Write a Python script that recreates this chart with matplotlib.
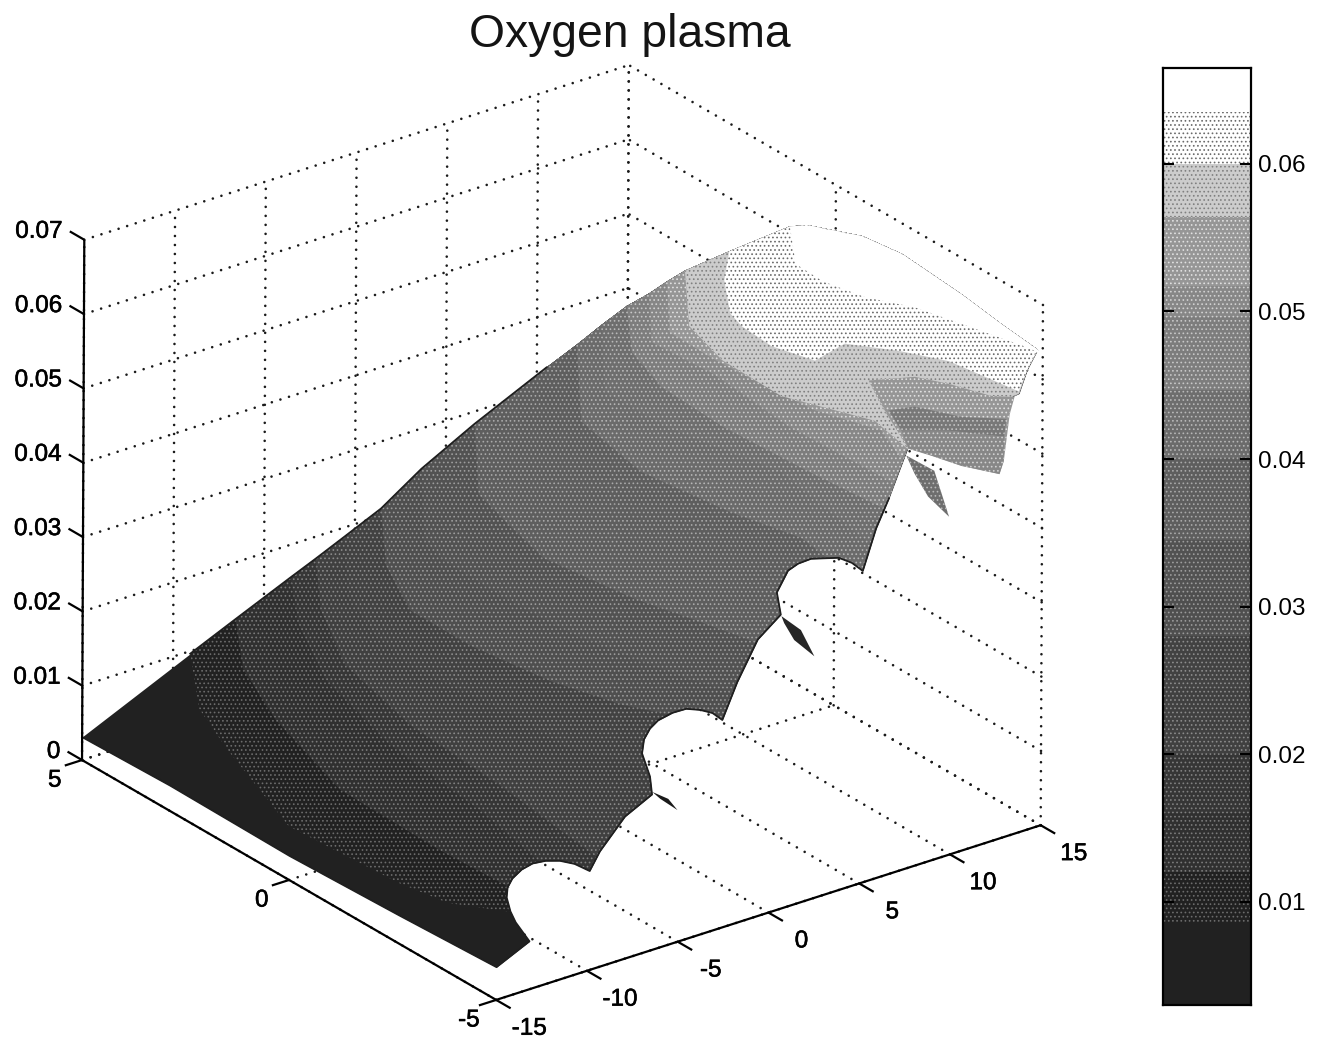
import numpy as np
import matplotlib
matplotlib.use("Agg")
import matplotlib.pyplot as plt
import matplotlib.patheffects as pe
from mpl_toolkits.mplot3d import proj3d
from mpl_toolkits.mplot3d.art3d import Poly3DCollection

plt.rcParams['font.family'] = ['Liberation Sans', 'DejaVu Sans']
plt.rcParams['hatch.linewidth'] = 0.7

# axis ticks
x_ticks = [-15, -10, -5, 0, 5, 10, 15]
y_ticks = [-5, 0, 5]
z_ticks = [0, 0.01, 0.02, 0.03, 0.04, 0.05, 0.06, 0.07]
z_labels = ['0', '0.01', '0.02', '0.03', '0.04', '0.05', '0.06', '0.07']
cb_ticks = [0.01, 0.02, 0.03, 0.04, 0.05, 0.06]

# height of each contour, and the gray of the band above it
levels = [0.0085, 0.012, 0.016, 0.020, 0.0245, 0.028, 0.031, 0.0345, 0.0377, 0.0401,
          0.0422, 0.0447, 0.0496, 0.0517, 0.0564, 0.06, 0.0635]
base_gray = 0.13
band_gray = [0.20, 0.26, 0.28, 0.32, 0.33, 0.38, 0.39, 0.44, 0.44, 0.49,
             0.50, 0.56, 0.60, 0.66, 0.76, 0.87, 1.0]
z_min = 0.003
z_max = 0.0665

# contours, from the top edge of the sheet to the cut edge
contour_x = [
    [-8.53, -11.59, -13.06, -15.60, -15.17, -14.66, -12.97],
    [-6.41, -9.20, -11.13, -13.14, -13.31, -13.11],
    [-3.72, -6.32, -8.75, -10.46, -11.27, -12.29],
    [-3.51, -6.47, -8.96, -10.35, -10.86, -11.81],
    [-3.24, -6.78, -8.07, -8.86, -8.45, -8.16, -8.24, -6.60],
    [-1.77, -5.08, -6.97, -7.00, -6.33, -5.28, -4.25],
    [0.72, -3.59, -4.11, -4.22, -4.19, -4.02, -3.37, -2.70, -1.92],
    [3.75, -0.40, -1.19, -2.01, -1.29, -0.36, 0.36],
    [8.31, 3.04, 2.20, 2.49, 3.81, 3.53],
    [9.67, 5.13, 4.17, 4.88, 5.81, 5.52],
    [10.81, 6.81, 6.85, 8.13, 6.94],
    [11.71, 9.07, 7.98, 7.74, 8.04, 8.43],
    [11.04, 8.14, 8.39, 7.85, 8.11],
    [11.45, 8.43, 8.36, 8.50, 8.81, 9.94, 8.92],
    [10.61, 7.37, 6.45, 6.35, 8.15, 7.59],
    [11.72, 9.78, 7.96, 7.58, 7.42, 8.07, 10.17, 11.64, 12.79, 13.41],
    [13.78, 11.72, 11.62, 12.15, 13.30, 14.08, 14.85, 14.87],
]
contour_y = [
    [5.23, 3.67, 2.36, -0.25, -2.72, -3.67, -4.47],
    [5.07, 3.66, 2.04, -0.40, -2.88, -4.49],
    [4.92, 3.59, 1.88, -0.44, -2.96, -4.86],
    [4.41, 2.99, 1.31, -0.87, -3.27, -6.01],
    [3.85, 2.21, 1.01, -0.22, -1.42, -2.49, -3.73, -4.90],
    [3.60, 2.03, 0.61, -0.85, -2.49, -3.72, -4.36],
    [3.72, 1.77, 1.06, -0.05, -1.14, -2.03, -3.20, -4.21, -4.95],
    [3.77, 1.85, 0.79, -0.43, -2.29, -3.49, -4.51],
    [4.03, 1.67, 0.20, -0.87, -2.47, -3.70],
    [3.90, 1.80, -0.07, -1.93, -3.21, -3.94],
    [3.80, 1.98, 0.49, -1.71, -4.36],
    [3.59, 2.31, 1.11, -0.51, -2.48, -4.04],
    [2.76, 1.43, 0.02, -2.08, -4.44],
    [2.51, 1.12, 0.00, -1.00, -2.22, -3.33, -4.26],
    [1.71, 0.19, -1.01, -2.49, -3.95, -4.99],
    [1.13, 0.40, -0.54, -0.99, -1.78, -2.54, -2.34, -3.00, -3.71, -5.12],
    [0.58, -0.46, -1.16, -1.95, -2.66, -3.70, -4.72, -4.94],
]

# cut edge of the sheet with the scallops
edge_x = [-14.96, -14.81, -14.88, -14.86, -14.99, -12.97, -13.21, -13.41, -13.60, -13.41, -13.15, -12.73, -12.43,
          -12.26, -12.21, -12.24, -12.46, -11.58, -9.24, -7.39, -6.59, -6.37, -5.76, -5.25, -4.83, -4.17, -3.67,
          -3.47, -3.36, -3.53, -1.59, 0.38, 2.03, 2.93, 4.07, 4.62, 5.15, 5.51, 5.53, 5.33, 7.50, 8.20, 7.23,
          13.38, 14.16, 15.0]
edge_y = [5.02, 2.96, 0.04, -2.60, -5.0, -4.91, -4.68, -4.64, -4.63, -4.57, -4.57, -4.61, -4.74,
          -4.98, -5.30, -5.67, -6.13, -5.99, -5.57, -5.41, -5.01, -4.72, -4.50, -4.42, -4.43, -4.49, -4.60,
          -4.85, -5.10, -5.41, -4.92, -4.55, -4.38, -3.89, -3.66, -3.66, -3.74, -4.25, -4.56, -4.91, -4.28, -4.28, -5.19,
          -5.14, -5.0, -4.88]
edge_z = [0.003, 0.003, 0.003, 0.0035, 0.0044, 0.006, 0.008, 0.0095, 0.0115, 0.0125, 0.0135, 0.0145, 0.0155,
          0.0165, 0.0175, 0.0183, 0.019, 0.0205, 0.022, 0.023, 0.0235, 0.0255, 0.0262, 0.027, 0.0278, 0.0285, 0.029,
          0.0295, 0.0298, 0.030, 0.032, 0.035, 0.0365, 0.0372, 0.0385, 0.039, 0.0395, 0.041, 0.0413, 0.0415, 0.0435,
          0.047, 0.058, 0.0598, 0.062, 0.0636]

# far edge of the sheet against the x=15 wall
top_x = [15, 15, 15, 15, 15, 15]
top_y = [0.69, -0.64, -1.61, -3.05, -4.015, -4.88]
top_z = [0.0624, 0.0652, 0.0659, 0.0651, 0.0642, 0.0636]

# right lobe and the small slivers
lobe_a_x = [11.49, 13.36, 14.13, 14.90, 15.65, 14.43, 11.34, 10.40, 9.55, 9.11, 8.73, 10.10]
lobe_a_y = [-2.34, -2.64, -3.12, -3.81, -4.04, -4.46, -5.67, -5.98, -5.43, -4.90, -4.52, -3.38]
lobe_a_z = 0.054
lobe_b_x = [12.18, 13.35, 14.38, 15.85, 14.68, 13.08, 11.42]
lobe_b_y = [-2.52, -2.64, -3.32, -3.76, -4.22, -3.58, -3.17]
lobe_b_z = 0.05
lobe_c_x = [13.25, 14.91, 16.51, 15.0, 14.06, 13.21, 12.78, 12.40]
lobe_c_y = [-2.37, -2.78, -3.42, -4.07, -4.38, -3.83, -3.30, -2.91]
lobe_c_z = 0.046
leaf_x = [10.06, 10.12, 7.83, 8.32, 9.24]
leaf_y = [-3.88, -4.53, -5.89, -5.17, -4.44]
leaf_z = 0.05
spike2_x = [2.20, 2.04, 0.91, 1.19, 1.87]
spike2_y = [-4.31, -4.85, -5.67, -5.06, -4.52]
spike2_z = 0.036
spike1_x = [-7.21, -7.07, -7.43, -7.35]
spike1_y = [-5.33, -5.65, -6.03, -5.58]
spike1_z = 0.023


fig = plt.figure(figsize=(13.27, 10.42), dpi=100)
S = 1095  # size of the square 3d axes in pixels
ax = fig.add_axes([0.2 / 1327, (1042 - 1094.8) / 1042, S / 1327, S / 1042], projection='3d',
                  proj_type='ortho', computed_zorder=False)
ax.view_init(elev=25.6, azim=-127, roll=-0.25)
ax.set_box_aspect((681, 690, 577))
ax.set_axis_off()
ax.patch.set_alpha(0)
ax.set_xlim(-15, 15, view_margin=0)
ax.set_ylim(-5, 5, view_margin=0)
ax.set_zlim(0, 0.07, view_margin=0)


def gray(v):
    return (v, v, v)


def screen(v):
    # halftone look: light bands are dark dots on paper, dark ones light dots on ink
    if v >= 1.0 or v <= 0.15:
        return gray(v), gray(v), None
    if v > 0.8:
        return gray(1.0), gray(0.42), '....'
    if v > 0.7:
        return gray(v + 0.04), gray(0.5), '....'
    return gray(max(v - 0.07, 0)), gray(min(v + 0.22, 1)), '....'


def add_poly(xs, ys, zs, color, zorder):
    verts = list(zip(xs, ys, zs))
    face, dot, hatch = screen(color)
    ax.add_collection3d(Poly3DCollection([verts], facecolors=[face], edgecolors=[dot], hatch=hatch,
                                         linewidths=0, zorder=zorder), autolim=False)


def label(x, y, z, s, **kw):
    px, py, _ = proj3d.proj_transform(x, y, z, ax.get_proj())
    t = ax.text2D(px, py, s, transform=ax.transData, va='center', fontsize=17.5, color='k', **kw)
    t.set_path_effects([pe.withStroke(linewidth=0.4, foreground='k')])


# dotted box grid
dots = dict(color='0.1', lw=1.9, linestyle=(0, (0.01, 3.4)), dash_capstyle='round', zorder=1)
for t in x_ticks:
    ax.plot([t, t], [-5, 5], [0, 0], **dots)
    ax.plot([t, t], [5, 5], [0, 0.07], **dots)
for t in y_ticks:
    ax.plot([-15, 15], [t, t], [0, 0], **dots)
    ax.plot([15, 15], [t, t], [0, 0.07], **dots)
for t in z_ticks:
    ax.plot([-15, 15], [5, 5], [t, t], **dots)
    ax.plot([15, 15], [-5, 5], [t, t], **dots)

# sheet, painted from low to high
starts_x = [c[0] for c in contour_x]
starts_y = [c[0] for c in contour_y]
xs = edge_x + top_x[::-1] + starts_x[::-1]
ys = edge_y + top_y[::-1] + starts_y[::-1]
zs = edge_z + top_z[::-1] + levels[::-1]
add_poly(xs, ys, zs, base_gray, 2)
for k, lev in enumerate(levels):
    i = next(n for n, v in enumerate(edge_z) if v > lev)
    xs = contour_x[k] + edge_x[i:] + top_x[::-1] + starts_x[:k:-1]
    ys = contour_y[k] + edge_y[i:] + top_y[::-1] + starts_y[:k:-1]
    zs = [lev] * len(contour_x[k]) + edge_z[i:] + top_z[::-1] + levels[:k:-1]
    add_poly(xs, ys, zs, band_gray[k], 3 + k)

add_poly(lobe_a_x, lobe_a_y, [lobe_a_z] * len(lobe_a_x), 0.66, 30)
add_poly(lobe_b_x, lobe_b_y, [lobe_b_z] * len(lobe_b_x), 0.54, 31)
add_poly(lobe_c_x, lobe_c_y, [lobe_c_z] * len(lobe_c_x), 0.6, 32)
add_poly(leaf_x, leaf_y, [leaf_z] * len(leaf_x), 0.5, 33)
add_poly(spike2_x, spike2_y, [spike2_z] * len(spike2_x), 0.15, 33)
add_poly(spike1_x, spike1_y, [spike1_z] * len(spike1_x), 0.1, 33)

# dark rim round the cut edge and the lower part of the top edge
ax.plot(edge_x[:42], edge_y[:42], edge_z[:42], color='0.12', lw=1.3, zorder=34)
ax.plot(starts_x[:9], starts_y[:9], levels[:9], color='0.12', lw=1.3, zorder=34)

# axes lines, ticks and labels
line = dict(color='k', lw=1.6, zorder=40, solid_capstyle='butt')
ax.plot([-15, 15], [-5, -5], [0, 0], **line)
ax.plot([-15, -15], [-5, 5], [0, 0], **line)
ax.plot([-15, -15], [5, 5], [0, 0.07], **line)
for t in x_ticks:
    ax.plot([t, t], [-5, -5.35], [0, 0], **line)
    label(t, -5.8, -0.0013, str(t), ha='center')
for t in y_ticks:
    ax.plot([-15, -15.95], [t, t], [0, 0], **line)
    label(-16.5, t, -0.0016, str(t), ha='center')
for t, lab in zip(z_ticks, z_labels):
    ax.plot([-15, -15], [5, 5.35], [t, t], **line)
    label(-15, 5.52, t - 0.0006, lab, ha='right')

fig.text(630 / 1327, 1 - 35 / 1042, 'Oxygen plasma', ha='center', va='center', fontsize=33.3, color='0.08')

# colour bar
cax = fig.add_axes([1163 / 1327, (1042 - 1005) / 1042, 88 / 1327, 937 / 1042])
edges = [z_min] + levels + [z_max]
colors = [base_gray] + band_gray
for k in range(len(colors)):
    face, dot, hatch = screen(colors[k])
    cax.axhspan(edges[k], edges[k + 1], facecolor=face, edgecolor=dot, hatch=hatch, lw=0)
cax.set_ylim(z_min, z_max)
cax.set_xticks([])
cax.set_yticks(cb_ticks)
cax.set_yticklabels(['%.2f' % t for t in cb_ticks], fontsize=17.5, color='k')
for t in cax.get_yticklabels():
    t.set_path_effects([pe.withStroke(linewidth=0.4, foreground='k')])
cax.yaxis.tick_right()
cax.tick_params(axis='y', direction='in', left=True, right=True, length=8, width=1.5, pad=5)
for sp in cax.spines.values():
    sp.set_linewidth(1.6)

fig.savefig('out.png', dpi=100, facecolor='white')
